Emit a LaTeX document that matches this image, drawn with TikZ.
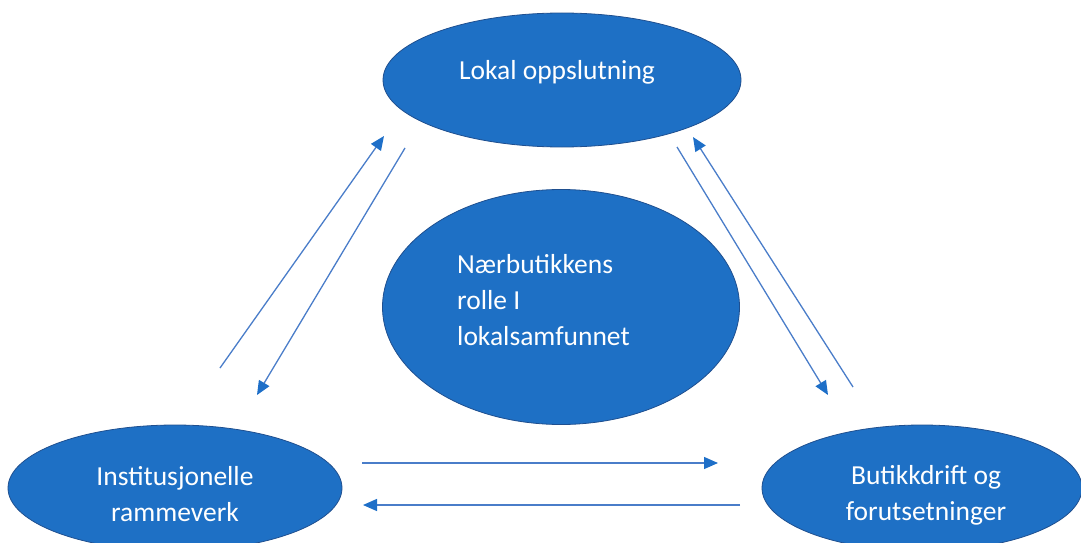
\documentclass[tikz,border=0pt]{standalone}
\usepackage{fontspec}
\setmainfont{Carlito}
\usetikzlibrary{shapes.geometric,arrows.meta}
\definecolor{ovalblue}{HTML}{1E70C5}
\definecolor{ovalline}{HTML}{1F4F8F}
\definecolor{linkblue}{HTML}{4A7DC9}
\definecolor{tipblue}{HTML}{1E6FC8}
\begin{document}
\begin{tikzpicture}[x=1pt,y=-1pt]
	% styles for ovals, texts and arrows
	\tikzset{oval/.style={ellipse,draw=ovalline,line width=0.8pt,fill=ovalblue,inner sep=0pt},
		ovaltext/.style={text=white,font=\fontsize{27.5}{36}\selectfont,inner sep=0pt},
		link/.style={draw=linkblue,line width=1.3pt,-{Triangle[length=14pt,width=12pt,color=tipblue]}}}
	\useasboundingbox (0,0) rectangle (1081,543);
	
	% Draw the ovals
	\node[oval,minimum width=358pt,minimum height=134pt] (lokal) at (562,80) {};
	\node[oval,minimum width=357pt,minimum height=235pt] (rolle) at (561,307) {};
	\node[oval,minimum width=334pt,minimum height=126pt] (inst) at (175,488) {};
	\node[oval,minimum width=320pt,minimum height=126pt] (drift) at (922,488) {};
	
	% draw the texts
	\node[ovaltext] (lokal-txt) at (557,72) {Lokal oppslutning};
	\node[ovaltext,align=left,anchor=west] (rolle-txt) at (457,300) {Nærbutikkens\\rolle I\\lokalsamfunnet};
	\node[ovaltext,align=center] (inst-txt) at (175,494) {Institusjonelle\\rammeverk};
	\node[ovaltext,align=center] (drift-txt) at (926,495) {Butikkdrift og\\forutsetninger};
	
	% ends of the arrows
	\coordinate (a1) at (220,368); \coordinate (a2) at (384,136);
	\coordinate (b1) at (405,148); \coordinate (b2) at (257,395);
	\coordinate (c1) at (677,147); \coordinate (c2) at (828,395);
	\coordinate (d1) at (853,387); \coordinate (d2) at (693,137);
	\coordinate (e1) at (362,463); \coordinate (e2) at (718,463);
	\coordinate (f1) at (740,505); \coordinate (f2) at (363,505);
	
	% Draw the arrows
	\foreach \s/\t in {a1/a2, b1/b2, c1/c2, d1/d2, e1/e2, f1/f2} {
		\draw[link] (\s) -- (\t);
	}
\end{tikzpicture}
\end{document}
